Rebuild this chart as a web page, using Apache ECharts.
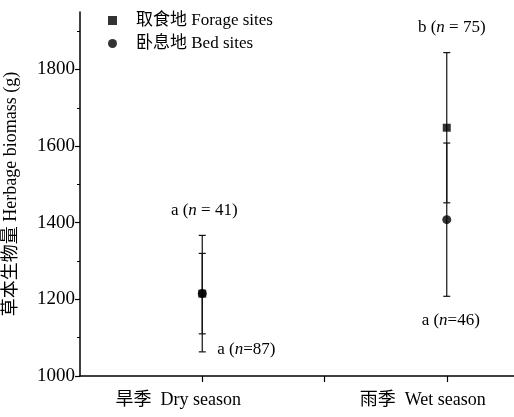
<!DOCTYPE html>
<html><head><meta charset="utf-8">
<script src="https://cdn.jsdelivr.net/npm/echarts@6/dist/echarts.min.js"></script>
<style>html,body{margin:0;padding:0;background:#fff}#c{width:514px;height:417px}</style>
</head><body><div id="c"></div>
<script>
// ---- data ----
const seasons = ['旱季  Dry season', '雨季  Wet season'];
const seasonX = [1, 3];
const forageMean = [1215, 1648];
const forageErr = [152, 196];
const bedMean = [1215, 1408];
const bedErr = [105, 200];
const forageLetter = ['a', 'b'];
const forageN = [41, 75];
const bedLetter = ['a', 'a'];
const bedN = [87, 46];
const yTicks = [1000, 1200, 1400, 1600, 1800];
const yMinorTicks = [1100, 1300, 1500, 1700, 1900];
const xTicks = [1, 2, 3];
const forageName = '取食地 Forage sites';
const bedName = '卧息地 Bed sites';

// ---- styles ----
const FONT = "'Liberation Serif', 'Times New Roman', 'Noto Sans CJK SC', serif";
const forageLabelPos = [{end: 'hi', dx: 2, dy: -25, align: 'center'}, {end: 'hi', dx: 5, dy: -25, align: 'center'}];
const bedLabelPos = [{end: 'lo', dx: 15, dy: 16, align: 'left'}, {end: 'lo', dx: 4, dy: 24, align: 'center'}];

function errSeries(name, means, errs, letters, ns, sep, pos) {
  const data = means.map((m, i) => [seasonX[i], m, m - errs[i], m + errs[i], i]);
  return {
    type: 'custom', name: name + ' err', data: data, z: 2,
    encode: {x: 0, y: [1, 2, 3]},
    renderItem: function (params, api) {
      const x = api.value(0), lo = api.value(2), hi = api.value(3), idx = api.value(4);
      const pLo = api.coord([x, lo]), pHi = api.coord([x, hi]);
      const hw = 3.5;
      const st = {stroke: '#111', lineWidth: 1.2};
      const p = pos[idx];
      const a = p.end === 'hi' ? pHi : pLo;
      return {type: 'group', children: [
        {type: 'line', shape: {x1: pLo[0], y1: pLo[1], x2: pHi[0], y2: pHi[1]}, style: st},
        {type: 'line', shape: {x1: pLo[0] - hw, y1: pLo[1], x2: pLo[0] + hw, y2: pLo[1]}, style: st},
        {type: 'line', shape: {x1: pHi[0] - hw, y1: pHi[1], x2: pHi[0] + hw, y2: pHi[1]}, style: st},
        {type: 'text', x: a[0] + p.dx, y: a[1] + p.dy, style: {
          text: '{t|' + letters[idx] + ' (}{i|n}{t|' + sep + ns[idx] + ')}',
          rich: {
            t: {fontFamily: FONT, fontSize: 17, fill: '#000'},
            i: {fontFamily: FONT, fontSize: 17, fontStyle: 'italic', fill: '#000'}
          },
          align: p.align, verticalAlign: 'middle'
        }}
      ]};
    }
  };
}

const chart = echarts.init(document.getElementById('c'), null, {renderer: 'canvas'});
chart.setOption({
  backgroundColor: '#fff',
  animation: false,
  grid: {left: 80, right: 0, top: 12, bottom: 41, outerBoundsMode: 'none'},
  legend: {
    data: [forageName, bedName], orient: 'vertical', left: 103, top: 7,
    itemWidth: 9, itemHeight: 9, itemGap: 6,
    textStyle: {fontFamily: FONT, fontSize: 17, color: '#000', padding: [0, 0, 0, 14]}
  },
  xAxis: {
    type: 'value', min: 0, max: 3.55,
    axisLine: {show: true, lineStyle: {color: '#000', width: 1.5}},
    axisTick: {show: true, customValues: xTicks, length: 6, lineStyle: {color: '#000', width: 1.2}},
    axisLabel: {customValues: seasonX, formatter: v => seasons[seasonX.indexOf(v)],
      fontFamily: FONT, fontSize: 18, color: '#000', margin: 15, padding: [0, 48, 0, 0]},
    splitLine: {show: false}
  },
  yAxis: [{
    type: 'value', min: 1000, max: 1950,
    axisLine: {show: true, lineStyle: {color: '#000', width: 1.5}},
    axisTick: {show: true, customValues: yTicks, length: 5, lineStyle: {color: '#000', width: 1.2}},
    axisLabel: {customValues: yTicks, formatter: v => String(v), fontFamily: FONT, fontSize: 19, color: '#000', margin: 5},
    splitLine: {show: false},
    name: '草本生物量 Herbage biomass (g)', nameLocation: 'middle', nameGap: 60,
    nameTextStyle: {fontFamily: FONT, fontSize: 18, color: '#000'}
  }, {
    type: 'value', min: 1000, max: 1950, position: 'left',
    axisLine: {show: false},
    axisTick: {show: true, customValues: yMinorTicks, length: 3, lineStyle: {color: '#000', width: 1}},
    axisLabel: {show: false}, splitLine: {show: false}
  }],
  series: [
    errSeries(forageName, forageMean, forageErr, forageLetter, forageN, ' = ', forageLabelPos),
    errSeries(bedName, bedMean, bedErr, bedLetter, bedN, '=', bedLabelPos),
    {type: 'scatter', name: forageName, symbol: 'rect', symbolSize: 8, z: 3,
      itemStyle: {color: '#000'}, data: forageMean.map((m, i) => [seasonX[i], m])},
    {type: 'scatter', name: bedName, symbol: 'circle', symbolSize: 9, z: 4,
      itemStyle: {color: '#000'}, data: bedMean.map((m, i) => [seasonX[i], m])}
  ]
});
</script>
</body></html>
